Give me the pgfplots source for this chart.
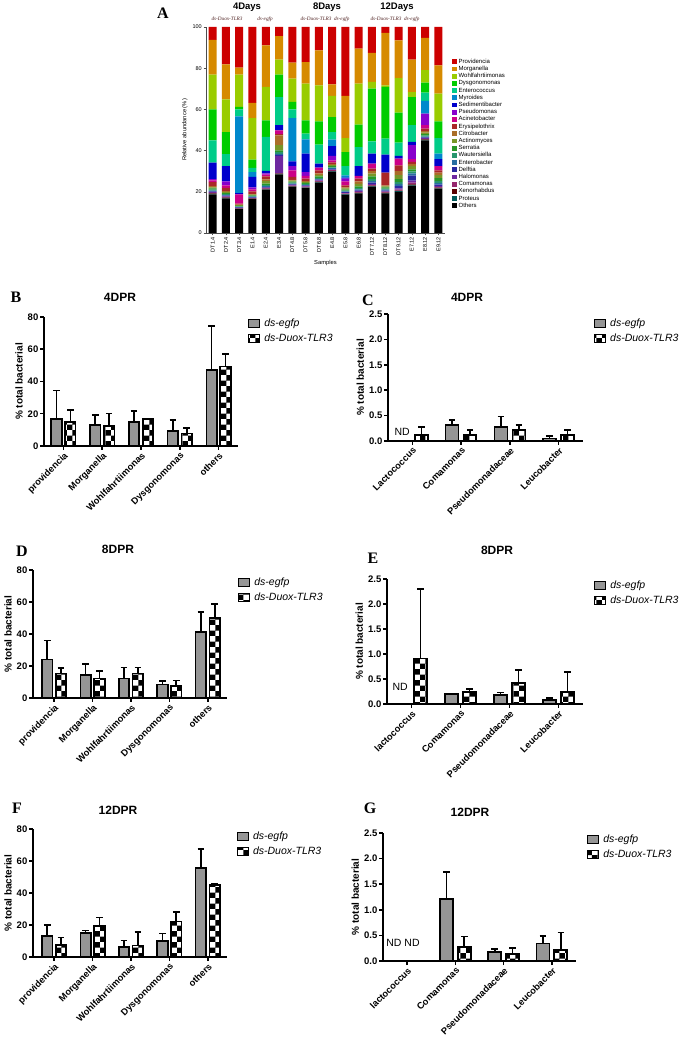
\documentclass[border=0pt]{standalone}
\usepackage{fontspec}
\setmainfont{Liberation Sans}
\newfontfamily\serifb{Liberation Serif}
\usepackage{pgfplots}
\pgfplotsset{compat=1.18}
\usepackage{pgfplotstable}
\usetikzlibrary{patterns}

\definecolor{cPrv}{HTML}{CC0000}
\definecolor{cMor}{HTML}{D68A00}
\definecolor{cWoh}{HTML}{99CC00}
\definecolor{cDys}{HTML}{00CC00}
\definecolor{cEnc}{HTML}{00CC88}
\definecolor{cMyr}{HTML}{0088CC}
\definecolor{cSed}{HTML}{0000CC}
\definecolor{cPse}{HTML}{8800CC}
\definecolor{cAci}{HTML}{CC0088}
\definecolor{cEry}{HTML}{AA2828}
\definecolor{cCit}{HTML}{AA6E28}
\definecolor{cAct}{HTML}{789628}
\definecolor{cSer}{HTML}{289628}
\definecolor{cWau}{HTML}{28966E}
\definecolor{cEba}{HTML}{286EA0}
\definecolor{cDel}{HTML}{2828A0}
\definecolor{cHal}{HTML}{6E28A0}
\definecolor{cCom}{HTML}{96286E}
\definecolor{cXen}{HTML}{5A0000}
\definecolor{cPro}{HTML}{005A5A}
\definecolor{cOth}{HTML}{000000}
\definecolor{egfpgray}{HTML}{959595}
\definecolor{subcol}{HTML}{4D2020}

\pgfplotstableread{
x Oth Pro Xen Com Hal Del Eba Wau Ser Act Cit Ery Aci Pse Sed Myr Enc Dys Woh Mor Prv
0 18.8 0.2 0.2 0.3 0.3 0.4 0.4 0.5 0.6 0.5 0.5 2.0 0.8 0.7 7.9 0 10.9 15.0 16.9 16.8 6.3
1 16.8 0.2 0.2 0.3 0.3 0.3 0.4 0.4 0.5 0.5 0.4 1.6 1.2 1.9 7.5 0 5.8 10.7 15.9 17.0 18.1
2 11.6 0.1 0.1 0.2 0.2 0.2 0.2 0.3 0.3 0.3 0.3 0.4 4.6 0 0.6 37.2 3.4 1.2 15.7 3.4 19.7
3 16.4 0.1 0.2 0.2 0.2 0.2 0.3 0.3 0.4 0.3 0.3 1.3 1.0 1.0 5.0 2.4 2.0 4.0 20.2 7.3 36.9
4 21.0 0.2 0.2 0.3 0.3 0.3 0.4 0.5 0.8 1.2 0.8 1.5 0.8 0.6 1.2 0 16.5 8.1 16.2 20.2 8.9
5 28.5 0.2 0.1 0.2 8.4 0.5 0.5 0.8 0.9 2.5 4.8 0.6 1.8 0 2.5 0 13.7 10.9 7.2 11.5 4.4
6 22.3 0.2 0.2 0.3 0.3 0.3 0.4 0.4 0.5 0.5 0.4 1.4 3.2 2.1 2.3 21.0 4.2 3.6 11.3 7.8 17.3
7 21.8 0.2 0.2 0.3 0.3 0.3 0.3 0.4 0.5 0.5 0.4 1.2 1.3 1.9 8.9 7.0 2.7 6.5 17.8 10.5 17.0
8 24.5 0.2 0.2 0.3 0.3 0.4 0.4 0.5 0.7 0.7 0.7 1.5 1.3 0 2.0 0 9.2 11.3 17.5 17.0 11.3
9 29.8 0.2 0.2 0.3 0.3 0.3 0.4 0.4 0.5 0.5 0.5 0.9 1.0 2.1 4.8 3.1 3.7 7.3 10.2 5.7 27.8
10 18.5 0.2 0.2 0.3 0.3 0.3 0.4 0.4 0.5 0.5 0.5 1.0 2.0 1.3 0.5 1.1 4.5 6.8 6.8 20.4 33.5
11 19.2 0.2 0.2 0.3 0.4 0.4 0.5 0.6 0.8 1.2 1.3 1.3 1.3 0 4.8 0 9.2 10.9 19.9 17.0 10.5
12 22.5 0.2 0.3 0.4 0.5 0.6 0.7 1.0 1.3 1.3 1.2 1.2 2.5 0 4.8 0 6.0 25.6 3.2 14.1 12.6
13 19.2 0.2 0.2 0.3 0.3 0.4 0.4 0.5 0.6 0.5 0.5 6.2 0 0 8.7 0 7.8 25.1 0.8 25.4 2.9
14 20.0 0.3 0.3 0.5 0.6 1.0 1.0 1.0 1.4 2.0 2.0 2.7 3.3 0 1.3 0 6.5 14.5 16.8 18.3 6.5
15 23.0 0.3 0.3 0.8 1.0 2.5 1.0 1.0 1.0 1.5 1.0 1.1 1.3 6.8 1.6 0 8.1 13.7 2.4 15.7 15.9
16 45.0 0.2 0.2 0.3 0.3 0.4 0.4 0.5 0.7 0.7 0.7 1.3 1.6 5.6 0 6.2 4.0 4.9 6.0 15.7 5.3
17 21.5 0.2 0.3 0.4 0.5 0.6 0.7 1.0 1.4 1.5 1.2 1.1 2.1 0 3.3 2.7 7.6 8.1 13.4 13.8 18.6
}\dataA

\pgfplotsset{
  /pgf/number format/assume math mode=true,
  dpr/.style={
    scale only axis, clip=false,
    axis x line*=bottom, axis y line*=left,
    axis line style={line width=1.7pt, black},
    every tick/.style={line width=1.5pt, black},
    tick align=outside, major tick length=4pt,
    ymin=0,
    x tick label style={rotate=45, anchor=north east, inner sep=1pt, font=\fontsize{9.3}{10}\selectfont\bfseries},
    y tick label style={font=\fontsize{9.5}{10}\selectfont\bfseries, inner sep=1.5pt},
    ylabel={\% total bacterial},
    ylabel style={font=\fontsize{10}{11}\selectfont\bfseries},
    legend cell align=left,
    legend style={draw=none, fill=none, anchor=north west, inner sep=0pt,
       font=\fontsize{10.5}{12}\selectfont\itshape,
       nodes={inner sep=1pt, text height=7.5pt, text depth=2pt},
       row sep=3.5pt, /tikz/column sep=3pt},
  },
  left5/.style={dpr, xmin=-0.5, xmax=4.5, ymax=80, ytick={0,20,40,60,80}, xtick={0,1,2,3,4},
     xticklabels={providencia,Morganella,Wohlfahrtiimonas,Dysgonomonas,others}},
  right4/.style={dpr, xmin=-0.5, xmax=3.5, ymax=2.5, ytick={0,0.5,1,1.5,2,2.5}, xtick={0,1,2,3},
     yticklabel style={/pgf/number format/.cd, fixed, fixed zerofill, precision=1}},
  errs/.style={error bars/y dir=plus, error bars/y explicit,
     error bars/error bar style={line width=1.7pt, black, solid},
     error bars/error mark options={rotate=90, line width=1.7pt, mark size=3.3pt, black, solid}},
  barL/.style={ybar, bar width=10.5pt, bar shift=0pt, draw=black, line width=1.7pt,
     legend image code/.code={\draw[##1, line width=1.1pt] (0pt,-3.5pt) rectangle (11pt,4.5pt);}, errs},
  egfpL/.style={barL, fill=egfpgray},
  duoxL/.style={barL, pattern=checkerboard, pattern color=black},
  egfpR/.style={egfpL, bar width=13pt},
  duoxR/.style={duoxL, bar width=13pt},
  sp/.style={fill=#1, draw=none},
}

\begin{document}
\begin{tikzpicture}[x=1pt,y=1pt]
\path[use as bounding box] (0,0) rectangle (688,1043);

% ---------------- Panel A ----------------
\begin{axis}[at={(206pt,810pt)}, anchor=south west, scale only axis,
  width=239pt, height=206pt, ybar stacked, bar width=8pt,
  xmin=-0.5, xmax=17.5, ymin=0, ymax=100,
  axis x line*=bottom, axis y line*=left,
  axis line style={line width=0.5pt, black!70},
  every tick/.style={line width=0.5pt, black!70},
  tick align=outside, major tick length=2.5pt,
  xtick={0,...,17},
  xticklabels={DT1.4,DT2.4,DT3.4,E1.4,E2.4,E3.4,DT4.8,DT5.8,DT6.8,E4.8,E5.8,E6.8,DT7.12,DT8.12,DT9.12,E7.12,E8.12,E9.12},
  x tick label style={rotate=90, anchor=east, inner sep=1.5pt, font=\fontsize{5.5}{6}\selectfont},
  ytick={0,20,40,60,80,100},
  y tick label style={font=\fontsize{5.5}{6}\selectfont, inner sep=1.5pt},
  xlabel={Samples}, ylabel={Relative abundance (\%)},
  label style={font=\fontsize{5.8}{7}\selectfont},
  every axis plot/.append style={legend image code/.code={\fill[#1] (0pt,-2.4pt) rectangle (5pt,2.4pt);}},
  reverse legend, legend cell align=left,
  legend style={draw=none, fill=none, at={(1.027,0.848)}, anchor=north west, inner sep=0pt,
    font=\fontsize{6}{7}\selectfont,
    nodes={inner sep=0.5pt, text height=4.3pt, text depth=1.2pt},
    row sep=0.7pt, /tikz/column sep=1.5pt},
]
\addplot[sp=cOth] table[x=x,y=Oth]{\dataA}; \addlegendentry{Others}
\addplot[sp=cPro] table[x=x,y=Pro]{\dataA}; \addlegendentry{Proteus}
\addplot[sp=cXen] table[x=x,y=Xen]{\dataA}; \addlegendentry{Xenorhabdus}
\addplot[sp=cCom] table[x=x,y=Com]{\dataA}; \addlegendentry{Comamonas}
\addplot[sp=cHal] table[x=x,y=Hal]{\dataA}; \addlegendentry{Halomonas}
\addplot[sp=cDel] table[x=x,y=Del]{\dataA}; \addlegendentry{Delftia}
\addplot[sp=cEba] table[x=x,y=Eba]{\dataA}; \addlegendentry{Enterobacter}
\addplot[sp=cWau] table[x=x,y=Wau]{\dataA}; \addlegendentry{Wautersiella}
\addplot[sp=cSer] table[x=x,y=Ser]{\dataA}; \addlegendentry{Serratia}
\addplot[sp=cAct] table[x=x,y=Act]{\dataA}; \addlegendentry{Actinomyces}
\addplot[sp=cCit] table[x=x,y=Cit]{\dataA}; \addlegendentry{Citrobacter}
\addplot[sp=cEry] table[x=x,y=Ery]{\dataA}; \addlegendentry{Erysipelothrix}
\addplot[sp=cAci] table[x=x,y=Aci]{\dataA}; \addlegendentry{Acinetobacter}
\addplot[sp=cPse] table[x=x,y=Pse]{\dataA}; \addlegendentry{Pseudomonas}
\addplot[sp=cSed] table[x=x,y=Sed]{\dataA}; \addlegendentry{Sedimentibacter}
\addplot[sp=cMyr] table[x=x,y=Myr]{\dataA}; \addlegendentry{Myroides}
\addplot[sp=cEnc] table[x=x,y=Enc]{\dataA}; \addlegendentry{Enterococcus}
\addplot[sp=cDys] table[x=x,y=Dys]{\dataA}; \addlegendentry{Dysgonomonas}
\addplot[sp=cWoh] table[x=x,y=Woh]{\dataA}; \addlegendentry{Wohlfahrtiimonas}
\addplot[sp=cMor] table[x=x,y=Mor]{\dataA}; \addlegendentry{Morganella}
\addplot[sp=cPrv] table[x=x,y=Prv]{\dataA}; \addlegendentry{Providencia}
\end{axis}

\node[font=\serifb\fontsize{16}{16}\selectfont\bfseries] at (163,1030) {A};
\node[font=\fontsize{9.5}{10}\selectfont\bfseries] at (247,1036) {4Days};
\node[font=\fontsize{9.5}{10}\selectfont\bfseries] at (327,1036) {8Days};
\node[font=\fontsize{9.5}{10}\selectfont\bfseries] at (397,1036) {12Days};
\node[font=\serifb\fontsize{5.2}{6}\selectfont\itshape, text=subcol] at (227,1024) {ds-Duox-TLR3};
\node[font=\serifb\fontsize{5.2}{6}\selectfont\itshape, text=subcol] at (265,1024) {ds-egfp};
\node[font=\serifb\fontsize{5.2}{6}\selectfont\itshape, text=subcol] at (325,1024) {ds-Duox-TLR3\ \ ds-egfp};
\node[font=\serifb\fontsize{5.2}{6}\selectfont\itshape, text=subcol] at (395,1024) {ds-Duox-TLR3\ \ ds-egfp};

% ---------------- Panel B ----------------
\begin{axis}[left5, at={(44pt,597pt)}, anchor=south west, width=194pt, height=129pt,
  legend style={at={(1.052,0.992)}}]
\addplot[egfpL] coordinates {(-0.18,16.9) +- (0,17.5) (0.82,13.0) +- (0,6.4) (1.82,14.8) +- (0,6.8) (2.82,9.3) +- (0,7.0) (3.82,47.0) +- (0,27.4)};
\addlegendentry{ds-egfp}
\addplot[duoxL] coordinates {(0.18,14.8) +- (0,7.5) (1.18,12.6) +- (0,7.6) (2.18,16.7) +- (0,0.4) (3.18,7.8) +- (0,3.5) (4.18,49.3) +- (0,7.8)};
\addlegendentry{ds-Duox-TLR3}
\end{axis}
\node[font=\serifb\fontsize{16}{16}\selectfont\bfseries] at (16,746) {B};
\node[font=\fontsize{12}{12}\selectfont\bfseries] at (120,746) {4DPR};

% ---------------- Panel C ----------------
\begin{axis}[right4, at={(388pt,602pt)}, anchor=south west, width=195pt, height=127pt,
  xticklabels={Lactococcus,Comamonas,Pseudomonadaceae,Leucobacter},
  legend style={at={(1.056,0.969)}}]
\addplot[egfpR] coordinates {(0.815,0.315) +- (0,0.095) (1.815,0.28) +- (0,0.2) (2.815,0.05) +- (0,0.05)};
\addlegendentry{ds-egfp}
\addplot[duoxR] coordinates {(0.185,0.118) +- (0,0.16) (1.185,0.12) +- (0,0.1) (2.185,0.22) +- (0,0.09) (3.185,0.12) +- (0,0.1)};
\addlegendentry{ds-Duox-TLR3}
\node[font=\fontsize{10.5}{11}\selectfont] at (axis cs:-0.21,0.18) {ND};
\end{axis}
\node[font=\serifb\fontsize{16}{16}\selectfont\bfseries] at (368,743) {C};
\node[font=\fontsize{12}{12}\selectfont\bfseries] at (467,746) {4DPR};

% ---------------- Panel D ----------------
\begin{axis}[left5, at={(33pt,345pt)}, anchor=south west, width=194pt, height=128pt,
  xmin=-0.55, legend style={at={(1.057,0.945)}}]
\addplot[egfpL] coordinates {(-0.18,24.1) +- (0,11.8) (0.82,14.2) +- (0,7.2) (1.82,12.2) +- (0,6.8) (2.82,8.5) +- (0,2.2) (3.82,41.2) +- (0,12.4)};
\addlegendentry{ds-egfp}
\addplot[duoxL] coordinates {(0.18,15.3) +- (0,3.3) (1.18,12.2) +- (0,4.5) (2.18,15.3) +- (0,3.7) (3.18,7.4) +- (0,3.5) (4.18,50.1) +- (0,8.7)};
\addlegendentry{ds-Duox-TLR3}
\end{axis}
\node[font=\serifb\fontsize{16}{16}\selectfont\bfseries] at (22,492) {D};
\node[font=\fontsize{12}{12}\selectfont\bfseries] at (118,494) {8DPR};

% ---------------- Panel E ----------------
\begin{axis}[right4, at={(387pt,339pt)}, anchor=south west, width=196pt, height=125pt,
  xticklabels={lactococcus,Comamonas,Pseudomonadaceae,Leucobacter},
  legend style={at={(1.056,0.992)}}]
\addplot[egfpR] coordinates {(0.815,0.2) +- (0,0.005) (1.815,0.173) +- (0,0.054) (2.815,0.08) +- (0,0.04)};
\addlegendentry{ds-egfp}
\addplot[duoxR] coordinates {(0.185,0.907) +- (0,1.39) (1.185,0.24) +- (0,0.06) (2.185,0.413) +- (0,0.26) (3.185,0.24) +- (0,0.4)};
\addlegendentry{ds-Duox-TLR3}
\node[font=\fontsize{10.5}{11}\selectfont] at (axis cs:-0.23,0.35) {ND};
\end{axis}
\node[font=\serifb\fontsize{16}{16}\selectfont\bfseries] at (373,485) {E};
\node[font=\fontsize{12}{12}\selectfont\bfseries] at (497,493) {8DPR};

% ---------------- Panel F ----------------
\begin{axis}[left5, at={(33pt,86pt)}, anchor=south west, width=194pt, height=128pt,
  xmin=-0.55, legend style={at={(1.05,0.984)}}]
\addplot[egfpL] coordinates {(-0.18,13.3) +- (0,6.9) (0.82,15.0) +- (0,1.5) (1.82,6.3) +- (0,4.1) (2.82,10.0) +- (0,4.6) (3.82,55.8) +- (0,11.7)};
\addlegendentry{ds-egfp}
\addplot[duoxL] coordinates {(0.18,7.5) +- (0,4.6) (1.18,19.2) +- (0,5.4) (2.18,7.1) +- (0,8.5) (3.18,22.1) +- (0,6.0) (4.18,45.2) +- (0,0.4)};
\addlegendentry{ds-Duox-TLR3}
\end{axis}
\node[font=\serifb\fontsize{16}{16}\selectfont\bfseries] at (17,235) {F};
\node[font=\fontsize{12}{12}\selectfont\bfseries] at (118,233) {12DPR};

% ---------------- Panel G ----------------
\begin{axis}[right4, at={(383pt,82pt)}, anchor=south west, width=193pt, height=128pt,
  xticklabels={lactococcus,Comamonas,Pseudomonadaceae,Leucobacter},
  legend style={at={(1.057,0.99)}}]
\addplot[egfpR] coordinates {(0.815,1.21) +- (0,0.53) (1.815,0.176) +- (0,0.06) (2.815,0.34) +- (0,0.15)};
\addlegendentry{ds-egfp}
\addplot[duoxR] coordinates {(1.185,0.275) +- (0,0.205) (2.185,0.137) +- (0,0.113) (3.185,0.21) +- (0,0.346)};
\addlegendentry{ds-Duox-TLR3}
\node[font=\fontsize{10.5}{11}\selectfont] at (axis cs:-0.085,0.35) {ND ND};
\end{axis}
\node[font=\serifb\fontsize{16}{16}\selectfont\bfseries] at (370,235) {G};
\node[font=\fontsize{12}{12}\selectfont\bfseries] at (470,231) {12DPR};

\end{tikzpicture}
\end{document}
